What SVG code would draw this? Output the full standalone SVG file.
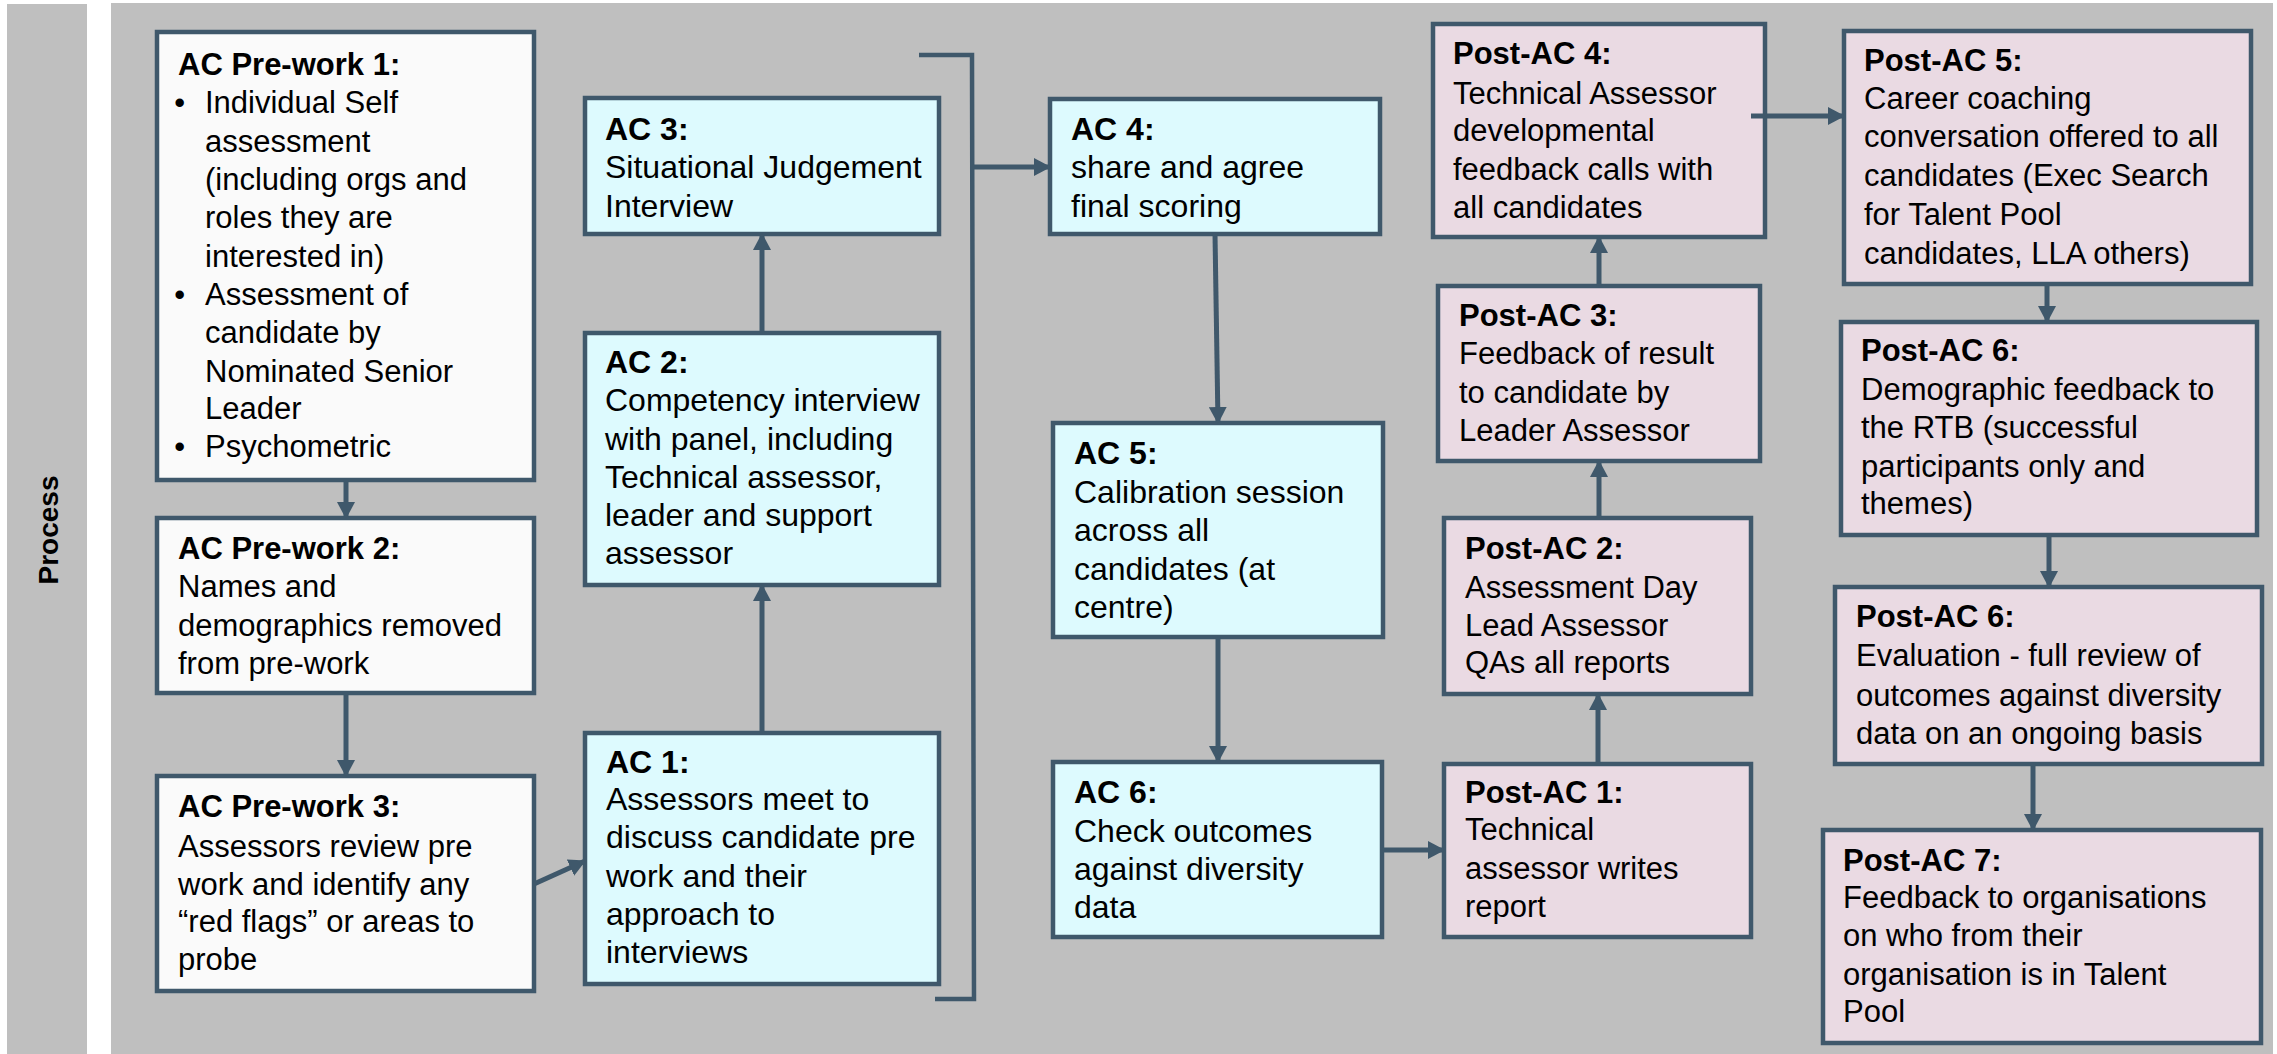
<svg xmlns="http://www.w3.org/2000/svg" width="2277" height="1054" viewBox="0 0 2277 1054">
<style>
.bg{fill:#bfbfbf}
.box{stroke:#3f586b;stroke-width:4.5}
.w{fill:#fafafa}
.b{fill:#ddfafe}
.p{fill:#eadae3}
text{font-family:"Liberation Sans",Arial,sans-serif;fill:#000}
.l{font-size:31px}
.m{font-size:32px}
.t{font-weight:bold}
.con{stroke:#3f586b;stroke-width:5;fill:none}
.brk{stroke:#3f586b;stroke-width:4.5;fill:none}
</style>
<defs>
<marker id="ah" markerUnits="userSpaceOnUse" markerWidth="17" markerHeight="18" refX="16" refY="9" orient="auto">
<path d="M0,0 L17,9 L0,18 z" fill="#3f586b"/>
</marker>
</defs>
<rect x="0" y="0" width="2277" height="1054" fill="#ffffff"/>
<rect class="bg" x="7" y="4" width="80" height="1050"/>
<rect class="bg" x="111" y="3" width="2162" height="1051"/>
<text x="58" y="530" text-anchor="middle" font-size="28" font-weight="bold" transform="rotate(-90 58 530)">Process</text>

<g id="pw1">
<rect class="box w" x="157" y="32" width="377" height="448"/>
<text class="l"><tspan class="t" x="178" y="75">AC Pre-work 1:</tspan></text>
<text class="l">
<tspan x="184" y="113" text-anchor="middle">•</tspan>
<tspan x="205" y="113">Individual Self</tspan>
<tspan x="205" y="152">assessment</tspan>
<tspan x="205" y="190">(including orgs and</tspan>
<tspan x="205" y="228">roles they are</tspan>
<tspan x="205" y="267">interested in)</tspan>
<tspan x="184" y="305" text-anchor="middle">•</tspan>
<tspan x="205" y="305">Assessment of</tspan>
<tspan x="205" y="343">candidate by</tspan>
<tspan x="205" y="382">Nominated Senior</tspan>
<tspan x="205" y="419">Leader</tspan>
<tspan x="184" y="457" text-anchor="middle">•</tspan>
<tspan x="205" y="457">Psychometric</tspan>
</text>
</g>
<g id="pw2">
<rect class="box w" x="157" y="518" width="377" height="175"/>
<text class="l"><tspan class="t" x="178" y="559">AC Pre-work 2:</tspan><tspan x="178" y="597">Names and</tspan><tspan x="178" y="636">demographics removed</tspan><tspan x="178" y="674">from pre-work</tspan></text>
</g>
<g id="pw3">
<rect class="box w" x="157" y="776" width="377" height="215"/>
<text class="l"><tspan class="t" x="178" y="817">AC Pre-work 3:</tspan><tspan x="178" y="857">Assessors review pre</tspan><tspan x="178" y="895">work and identify any</tspan><tspan x="178" y="932">“red flags” or areas to</tspan><tspan x="178" y="970">probe</tspan></text>
</g>

<g id="ac3">
<rect class="box b" x="585" y="98" width="354" height="136"/>
<text class="m"><tspan class="t" x="605" y="140">AC 3:</tspan><tspan x="605" y="178">Situational Judgement</tspan><tspan x="605" y="217">Interview</tspan></text>
</g>
<g id="ac2">
<rect class="box b" x="585" y="333" width="354" height="252"/>
<text class="m"><tspan class="t" x="605" y="373">AC 2:</tspan><tspan x="605" y="411">Competency interview</tspan><tspan x="605" y="450">with panel, including</tspan><tspan x="605" y="488">Technical assessor,</tspan><tspan x="605" y="526">leader and support</tspan><tspan x="605" y="564">assessor</tspan></text>
</g>
<g id="ac1">
<rect class="box b" x="585" y="733" width="354" height="251"/>
<text class="m"><tspan class="t" x="606" y="773">AC 1:</tspan><tspan x="606" y="810">Assessors meet to</tspan><tspan x="606" y="848">discuss candidate pre</tspan><tspan x="606" y="887">work and their</tspan><tspan x="606" y="925">approach to</tspan><tspan x="606" y="963">interviews</tspan></text>
</g>
<g id="ac4">
<rect class="box b" x="1050" y="99" width="330" height="135"/>
<text class="m"><tspan class="t" x="1071" y="140">AC 4:</tspan><tspan x="1071" y="178">share and agree</tspan><tspan x="1071" y="217">final scoring</tspan></text>
</g>
<g id="ac5">
<rect class="box b" x="1053" y="423" width="330" height="214"/>
<text class="m"><tspan class="t" x="1074" y="464">AC 5:</tspan><tspan x="1074" y="503">Calibration session</tspan><tspan x="1074" y="541">across all</tspan><tspan x="1074" y="580">candidates (at</tspan><tspan x="1074" y="618">centre)</tspan></text>
</g>
<g id="ac6">
<rect class="box b" x="1053" y="762" width="329" height="175"/>
<text class="m"><tspan class="t" x="1074" y="803">AC 6:</tspan><tspan x="1074" y="842">Check outcomes</tspan><tspan x="1074" y="880">against diversity</tspan><tspan x="1074" y="918">data</tspan></text>
</g>

<g id="pac4">
<rect class="box p" x="1433" y="24" width="332" height="213"/>
<text class="l"><tspan class="t" x="1453" y="64">Post-AC 4:</tspan><tspan x="1453" y="104">Technical Assessor</tspan><tspan x="1453" y="141">developmental</tspan><tspan x="1453" y="180">feedback calls with</tspan><tspan x="1453" y="218">all candidates</tspan></text>
</g>
<g id="pac3">
<rect class="box p" x="1438" y="286" width="322" height="175"/>
<text class="l"><tspan class="t" x="1459" y="326">Post-AC 3:</tspan><tspan x="1459" y="364">Feedback of result</tspan><tspan x="1459" y="403">to candidate by</tspan><tspan x="1459" y="441">Leader Assessor</tspan></text>
</g>
<g id="pac2">
<rect class="box p" x="1444" y="518" width="307" height="176"/>
<text class="l"><tspan class="t" x="1465" y="559">Post-AC 2:</tspan><tspan x="1465" y="598">Assessment Day</tspan><tspan x="1465" y="636">Lead Assessor</tspan><tspan x="1465" y="673">QAs all reports</tspan></text>
</g>
<g id="pac1">
<rect class="box p" x="1444" y="764" width="307" height="173"/>
<text class="l"><tspan class="t" x="1465" y="803">Post-AC 1:</tspan><tspan x="1465" y="840">Technical</tspan><tspan x="1465" y="879">assessor writes</tspan><tspan x="1465" y="917">report</tspan></text>
</g>
<g id="pac5">
<rect class="box p" x="1844" y="31" width="407" height="253"/>
<text class="l"><tspan class="t" x="1864" y="71">Post-AC 5:</tspan><tspan x="1864" y="109">Career coaching</tspan><tspan x="1864" y="147">conversation offered to all</tspan><tspan x="1864" y="186">candidates (Exec Search</tspan><tspan x="1864" y="225">for Talent Pool</tspan><tspan x="1864" y="264">candidates, LLA others)</tspan></text>
</g>
<g id="pac6a">
<rect class="box p" x="1841" y="322" width="416" height="213"/>
<text class="l"><tspan class="t" x="1861" y="361">Post-AC 6:</tspan><tspan x="1861" y="400">Demographic feedback to</tspan><tspan x="1861" y="438">the RTB (successful</tspan><tspan x="1861" y="477">participants only and</tspan><tspan x="1861" y="514">themes)</tspan></text>
</g>
<g id="pac6b">
<rect class="box p" x="1835" y="587" width="427" height="177"/>
<text class="l"><tspan class="t" x="1856" y="627">Post-AC 6:</tspan><tspan x="1856" y="666">Evaluation - full review of</tspan><tspan x="1856" y="706">outcomes against diversity</tspan><tspan x="1856" y="744">data on an ongoing basis</tspan></text>
</g>
<g id="pac7">
<rect class="box p" x="1823" y="830" width="438" height="213"/>
<text class="l"><tspan class="t" x="1843" y="871">Post-AC 7:</tspan><tspan x="1843" y="908">Feedback to organisations</tspan><tspan x="1843" y="946">on who from their</tspan><tspan x="1843" y="985">organisation is in Talent</tspan><tspan x="1843" y="1022">Pool</tspan></text>
</g>

<g id="connectors">
<line class="con" x1="346" y1="480" x2="346" y2="518" marker-end="url(#ah)"/>
<line class="con" x1="346" y1="693" x2="346" y2="776" marker-end="url(#ah)"/>
<line class="con" x1="534" y1="884" x2="585" y2="861" marker-end="url(#ah)"/>
<line class="con" x1="762" y1="733" x2="762" y2="585" marker-end="url(#ah)"/>
<line class="con" x1="762" y1="333" x2="762" y2="234" marker-end="url(#ah)"/>
<polyline class="brk" points="919,55 972,55 974,999 935,999"/>
<line class="con" x1="972" y1="167" x2="1050" y2="167" marker-end="url(#ah)"/>
<line class="con" x1="1215" y1="234" x2="1218" y2="423" marker-end="url(#ah)"/>
<line class="con" x1="1218" y1="637" x2="1218" y2="762" marker-end="url(#ah)"/>
<line class="con" x1="1382" y1="850" x2="1444" y2="850" marker-end="url(#ah)"/>
<line class="con" x1="1598" y1="764" x2="1598" y2="694" marker-end="url(#ah)"/>
<line class="con" x1="1599" y1="518" x2="1599" y2="461" marker-end="url(#ah)"/>
<line class="con" x1="1599" y1="286" x2="1599" y2="237" marker-end="url(#ah)"/>
<line class="con" x1="1751" y1="116" x2="1844" y2="116" marker-end="url(#ah)"/>
<line class="con" x1="2047" y1="284" x2="2047" y2="322" marker-end="url(#ah)"/>
<line class="con" x1="2049" y1="535" x2="2049" y2="587" marker-end="url(#ah)"/>
<line class="con" x1="2033" y1="764" x2="2033" y2="830" marker-end="url(#ah)"/>
</g>
</svg>
